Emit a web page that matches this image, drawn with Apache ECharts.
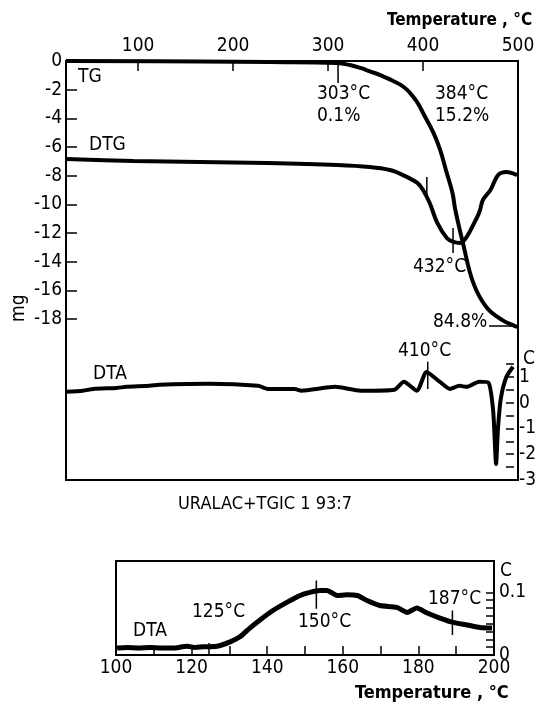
<!DOCTYPE html>
<html>
<head>
<meta charset="utf-8">
<script src="https://cdn.jsdelivr.net/npm/echarts@6/dist/echarts.min.js"></script>
<style>
html,body{margin:0;padding:0;background:#fff;}
#c{width:539px;height:706px;}
</style>
</head>
<body>
<div id="c"></div>
<script>
// ---------- data ----------
// Main panel: temperature (°C) vs mass (mg) for TG and DTG, DTA on right axis (°C)
const tgTemp = [24, 165, 239, 309, 323, 335, 344, 355, 365, 376, 383, 389, 395, 400, 411, 418, 425, 431, 434, 442, 453, 467, 484, 497, 500];
const tgMass = [0, -0.03, -0.07, -0.14, -0.28, -0.5, -0.72, -0.98, -1.28, -1.65, -2.0, -2.45, -3.0, -3.63, -5.02, -6.21, -7.82, -9.21, -10.4, -12.7, -15.5, -17.2, -18.1, -18.5, -18.56];

const dtgTemp = [24, 95, 165, 236, 310, 344, 365, 379, 394, 400, 407, 415, 425, 432, 439, 446, 457, 460, 463, 471, 479, 488, 499];
const dtgMass = [-6.84, -6.98, -7.05, -7.12, -7.26, -7.40, -7.61, -7.96, -8.51, -9.00, -9.91, -11.3, -12.35, -12.63, -12.70, -12.28, -10.89, -10.4, -9.70, -9.00, -7.96, -7.75, -7.96];

const dtaTemp = [24, 42, 53, 78, 88, 113, 123, 176, 228, 239, 267, 274, 310, 337, 373, 383, 397, 407, 421, 432, 442, 450, 463, 473, 478, 481, 483, 486, 492, 499];
const dtaVal  = [0.42, 0.46, 0.53, 0.57, 0.61, 0.65, 0.69, 0.73, 0.65, 0.53, 0.53, 0.46, 0.61, 0.46, 0.50, 0.81, 0.46, 1.19, 0.81, 0.53, 0.65, 0.61, 0.81, 0.77, -0.36, -2.38, -1.02, 0.15, 1.0, 1.39];

// Lower panel: DTA 100–200 °C
const dta2Temp = [100.3, 103, 106, 109, 112, 115, 118.8, 121, 123, 126.7, 130.2, 132.8, 135.4, 138.1, 141.5, 145.2, 148.7, 151.3, 154, 155.8, 158.5, 161, 163.8, 166.4, 169.8, 174.3, 177, 179.6, 182.3, 185.7, 189.2, 192.9, 196.3, 199.5];
const dta2Val  = [0.011, 0.012, 0.011, 0.012, 0.011, 0.011, 0.014, 0.012, 0.013, 0.014, 0.021, 0.029, 0.043, 0.056, 0.071, 0.084, 0.095, 0.100, 0.103, 0.103, 0.095, 0.096, 0.095, 0.087, 0.079, 0.076, 0.068, 0.075, 0.067, 0.059, 0.052, 0.048, 0.044, 0.043];

// Tick labels
const topTempTicks = [100, 200, 300, 400, 500];
const mgTicks = [0, -2, -4, -6, -8, -10, -12, -14, -16, -18];
const dtaTicks = [-3, -2, -1, 0, 1];
const lowTempTicks = [100, 120, 140, 160, 180, 200];
const lowDtaTicks = [0, 0.1];

// annotation marker segments (temperature, value)
const tgMarker303 = [[310.5, -0.28], [310.5, -1.54]];
const dtgMarker384 = [[404, -8.1], [404, -9.4]];
const dtgMarker432 = [[431.6, -11.65], [431.6, -13.4]];
const tgLine848 = [[469.5, -18.5], [500, -18.5]];
const dtaMarker410 = [[408.4, 1.58], [408.4, 0.53]];
const lowMarker125 = [[124.6, 0.019], [124.6, -0.0]];
const lowMarker150 = [[153, 0.119], [153, 0.074]];
const lowMarker187 = [[189, 0.071], [189, 0.032]];

// ---------- chart ----------
const FONT = "'Liberation Sans Narrow', 'DejaVu Sans Condensed', 'Liberation Sans', sans-serif";
const chart = echarts.init(document.getElementById('c'), null, {renderer: 'canvas'});
const zip = (a, b) => a.map((v, i) => [v, b[i]]);
const txt = {color: '#000', fontFamily: FONT, fontSize: 19};

function range(a, b, s) { const r = []; for (let v = a; v <= b + 1e-9; v += s) r.push(+v.toFixed(4)); return r; }

function seg(data, xi, yi, w) {
  return {type: 'line', xAxisIndex: xi, yAxisIndex: yi, data: data, symbol: 'none',
          lineStyle: {color: '#000', width: w || 1.5}, silent: true, animation: false, z: 5};
}

function gtext(text, left, top, extra) {
  return {type: 'text', left: left, top: top,
    style: Object.assign({text: text, fill: '#000', font: '19px ' + FONT}, extra || {})};
}

const option = {
  backgroundColor: '#fff',
  animation: false,
  grid: [
    {left: 66, top: 61, width: 452, height: 419, show: true, borderColor: '#000', borderWidth: 2, backgroundColor: 'transparent'},
    {left: 66, top: 351, width: 452, height: 129, show: false},
    {left: 116, top: 561, width: 378, height: 94, show: true, borderColor: '#000', borderWidth: 2, backgroundColor: 'transparent'}
  ],
  xAxis: [
    {type: 'value', gridIndex: 0, position: 'top', min: 24, max: 500,
     axisLine: {show: true, lineStyle: {color: '#000', width: 2}},
     axisTick: {show: true, inside: true, length: 10, customValues: [100, 200, 300, 400], lineStyle: {color: '#000', width: 1.5}},
     axisLabel: Object.assign({customValues: topTempTicks, margin: 5}, txt),
     splitLine: {show: false}},
    {type: 'value', gridIndex: 1, min: 24, max: 500, show: false},
    {type: 'value', gridIndex: 2, position: 'bottom', min: 100, max: 200,
     axisLine: {show: true, lineStyle: {color: '#000', width: 2}},
     axisTick: {show: true, inside: true, length: 9, customValues: range(110, 190, 10), lineStyle: {color: '#000', width: 1.5}},
     axisLabel: Object.assign({customValues: lowTempTicks, margin: 4}, txt),
     splitLine: {show: false}}
  ],
  yAxis: [
    {type: 'value', gridIndex: 0, position: 'left', min: -29.24, max: 0,
     axisLine: {show: true, lineStyle: {color: '#000', width: 2}},
     axisTick: {show: true, inside: true, length: 11, customValues: mgTicks.slice(1), lineStyle: {color: '#000', width: 1.5}},
     axisLabel: Object.assign({customValues: mgTicks, margin: 4, formatter: v => String(v)}, txt),
     splitLine: {show: false}},
    {type: 'value', gridIndex: 1, position: 'right', min: -3, max: 2,
     axisLine: {show: false},
     axisTick: {show: true, inside: true, length: 8, customValues: range(-3, 1.5, 0.5), lineStyle: {color: '#000', width: 1.5}},
     axisLabel: Object.assign({customValues: dtaTicks, margin: 5, formatter: v => String(v)}, txt),
     splitLine: {show: false}},
    {type: 'value', gridIndex: 2, position: 'right', min: 0, max: 0.15,
     axisLine: {show: true, lineStyle: {color: '#000', width: 2}},
     axisTick: {show: true, inside: true, length: 8, customValues: range(0.0125, 0.1, 0.0125), lineStyle: {color: '#000', width: 1.5}},
     axisLabel: Object.assign({customValues: lowDtaTicks, margin: 5, formatter: v => String(v)}, txt),
     splitLine: {show: false}}
  ],
  series: [
    {name: 'TG', type: 'line', xAxisIndex: 0, yAxisIndex: 0, data: zip(tgTemp, tgMass), symbol: 'none', smooth: 0.4,
     lineStyle: {color: '#000', width: 4}, z: 4},
    {name: 'DTG', type: 'line', xAxisIndex: 0, yAxisIndex: 0, data: zip(dtgTemp, dtgMass), symbol: 'none', smooth: 0.3,
     lineStyle: {color: '#000', width: 4}, z: 4},
    {name: 'DTA', type: 'line', xAxisIndex: 1, yAxisIndex: 1, data: zip(dtaTemp, dtaVal), symbol: 'none', smooth: 0.2,
     lineStyle: {color: '#000', width: 4}, z: 4},
    {name: 'DTA2', type: 'line', xAxisIndex: 2, yAxisIndex: 2, data: zip(dta2Temp, dta2Val), symbol: 'none', smooth: 0.2,
     lineStyle: {color: '#000', width: 5}, z: 4},
    seg(tgMarker303, 0, 0), seg(dtgMarker384, 0, 0), seg(dtgMarker432, 0, 0), seg(tgLine848, 0, 0),
    seg(dtaMarker410, 1, 1), seg(lowMarker125, 2, 2), seg(lowMarker150, 2, 2), seg(lowMarker187, 2, 2)
  ],
  graphic: [
    gtext('Temperature , °C', 387, 12, {font: 'bold 17px ' + FONT}),
    gtext('TG', 78, 68),
    gtext('DTG', 89, 136),
    gtext('DTA', 93, 365),
    gtext('303°C', 317, 85),
    gtext('0.1%', 317, 107),
    gtext('384°C', 435, 85),
    gtext('15.2%', 435, 107),
    gtext('432°C', 413, 258),
    gtext('84.8%', 433, 313),
    gtext('410°C', 398, 342),
    gtext('C', 523, 350),
    {type: 'text', x: 10, y: 322, rotation: Math.PI / 2,
     style: {text: 'mg', fill: '#000', font: '19px ' + FONT, verticalAlign: 'top'}},
    gtext('URALAC+TGIC 1 93:7', 178, 495, {font: '18px ' + FONT}),
    gtext('C', 500, 562),
    gtext('DTA', 133, 622),
    gtext('125°C', 192, 603),
    gtext('150°C', 298, 613),
    gtext('187°C', 428, 590),
    gtext('Temperature , °C', 355, 684, {font: 'bold 18px ' + FONT})
  ]
};
chart.setOption(option);
</script>
</body>
</html>
